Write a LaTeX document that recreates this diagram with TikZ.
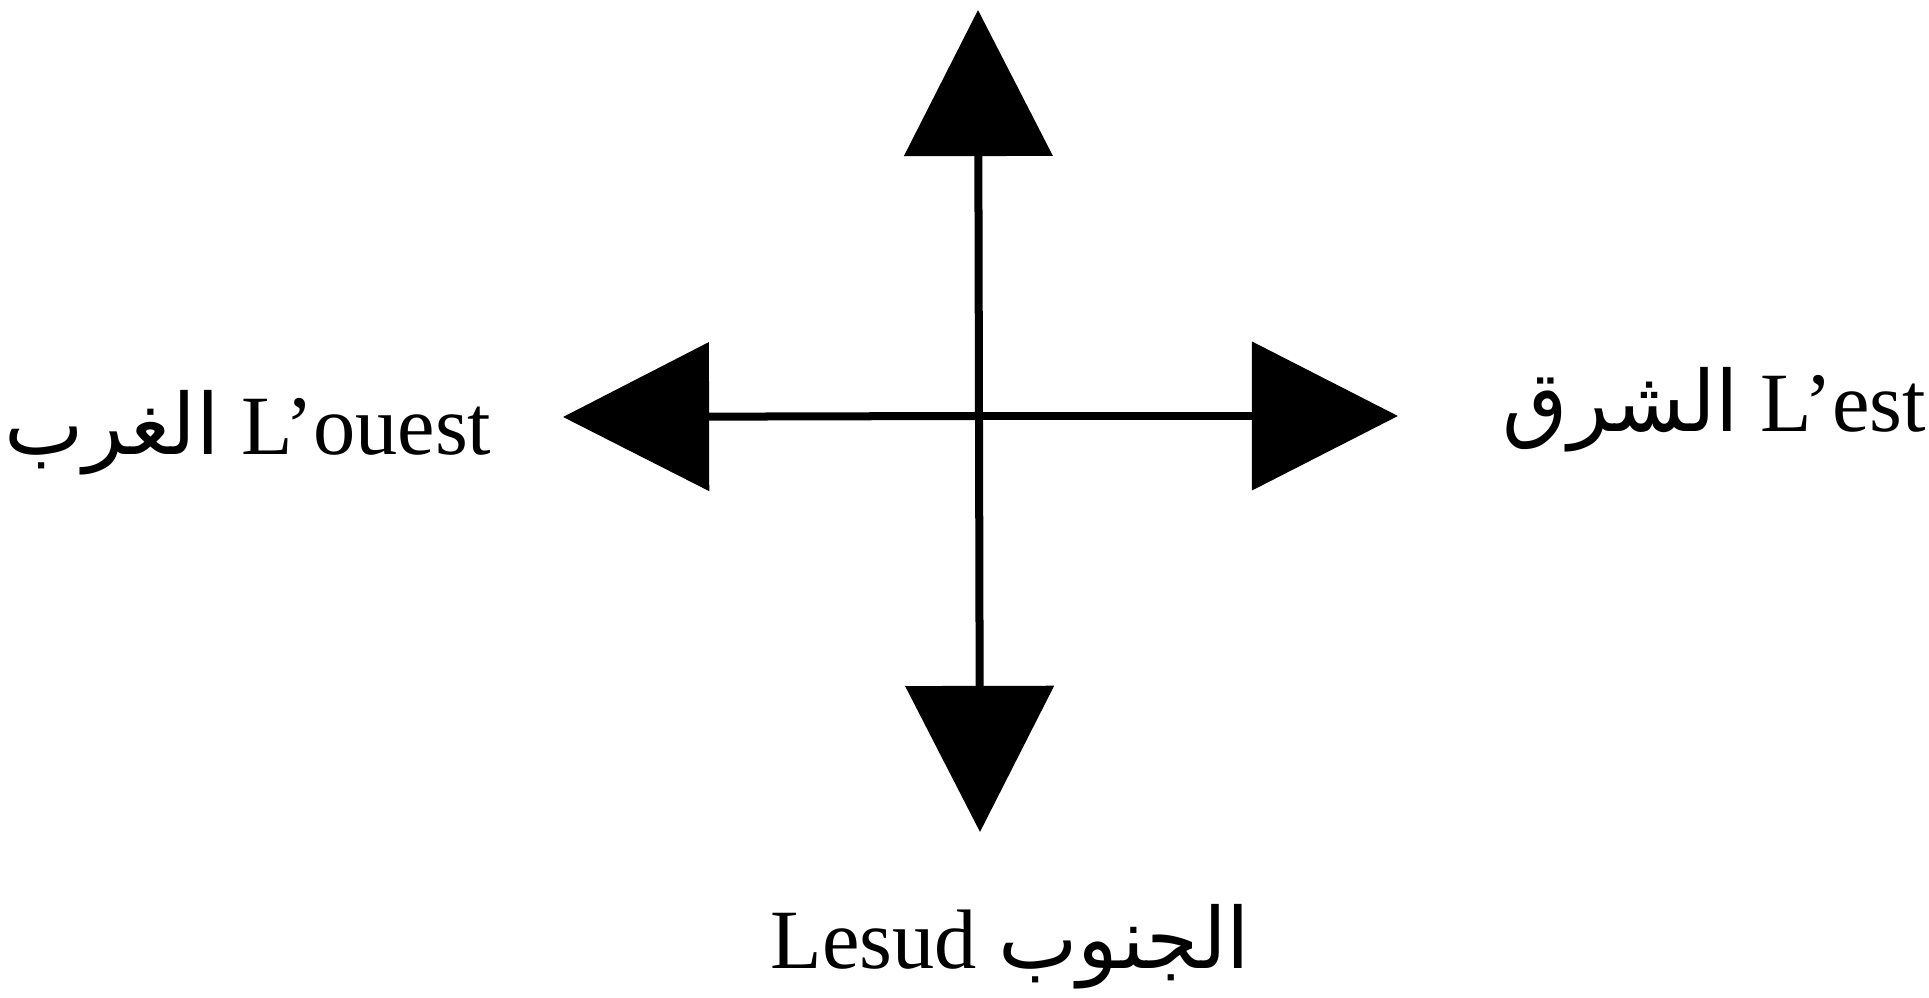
\documentclass[tikz,border=0pt]{standalone}
\usepackage{fontspec}
\setmainfont{Liberation Serif}
\newfontfamily\arabicfont[Script=Arabic]{DejaVu Sans}
\TeXXeTstate=1
\usetikzlibrary{arrows.meta}

\begin{document}
\begin{tikzpicture}[x=0.01cm, y=-0.01cm,
  every node/.style={font=\fontsize{24}{28}\selectfont, inner sep=0pt},
  compass/.style={line width=0.08cm, -{Triangle[length=1.46cm, width=1.47cm]}}]
  \useasboundingbox (0,0) rectangle (1929,998);
  \coordinate (centre) at (979,416);
  \coordinate (north) at (978,10);
  \coordinate (southtip) at (980,832);
  \coordinate (westtip) at (563,417);
  \coordinate (easttip) at (1398,416);
  \draw[compass] (centre) -- (north);
  \draw[compass] (centre) -- (southtip);
  \draw[compass] (centre) -- (westtip);
  \draw[compass] (centre) -- (easttip);
  \node[anchor=base east] (west) at (492,455) {{\arabicfont\beginR الغرب\endR} L’ouest};
  \node[anchor=base west] (east) at (1502,432) {{\arabicfont\beginR الشرق\endR} L’est};
  \node[anchor=base west] (south) at (770,969) {Lesud {\arabicfont\beginR الجنوب\endR}};
\end{tikzpicture}
\end{document}
